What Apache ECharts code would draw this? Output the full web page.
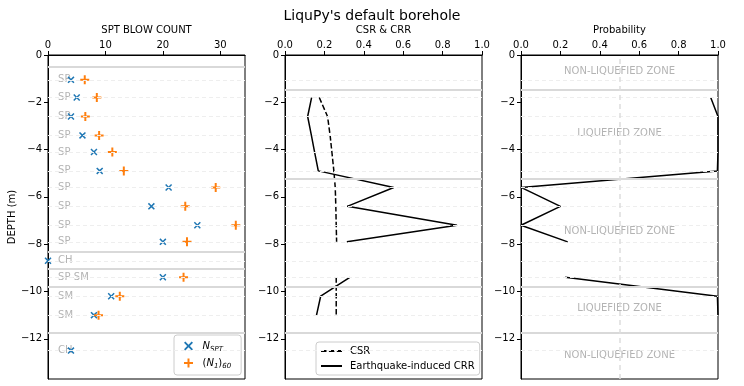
<!DOCTYPE html>
<html><head><meta charset="utf-8">
<script src="https://cdn.jsdelivr.net/npm/echarts@6/dist/echarts.min.js"></script>
<style>html,body{margin:0;padding:0;background:#fff}#c{width:744px;height:386px}</style>
</head><body><div id="c"></div>
<script>
// ---- data ----
const depths    = [-1.05, -1.8, -2.6, -3.4, -4.1, -4.9, -5.6, -6.4, -7.2, -7.9, -8.7, -9.4, -10.2, -11.0, -12.5];
const soilTypes = ['SP','SP','SP','SP','SP','SP','SP','SP','SP','SP','CH','SP-SM','SM','SM','CH'];
const nSPT      = [4, 5, 4, 6, 8, 9, 21, 18, 26, 20, 0, 20, 11, 8, 4];
const n160      = [6.4, 8.5, 6.5, 8.9, 11.2, 13.2, 29.2, 23.9, 32.7, 24.2, null, 23.6, 12.5, 8.8, null];
const csr       = [null, 0.174, 0.216, 0.229, 0.238, 0.248, 0.255, 0.258, 0.26, 0.262, null, 0.26, 0.26, 0.26, null];
const crr       = [null, 0.135, 0.115, 0.134, 0.15, 0.169, 0.552, 0.316, 0.873, 0.314, null, 0.329, 0.181, 0.16, null];
const prob      = [null, 0.963, 1.0, 1.0, 1.0, 0.997, 0.0, 0.2, 0.0, 0.237, null, 0.224, 0.997, 1.0, null];
const soilBoundaries = [-0.5, -8.3, -9.05, -9.8, -11.75];
const zoneBoundaries = [-1.45, -5.25, -9.8, -11.75];
const zoneLabels = ['NON-LIQUEFIED ZONE','LIQUEFIED ZONE','NON-LIQUEFIED ZONE','LIQUEFIED ZONE','NON-LIQUEFIED ZONE'];
const zoneDepths = [-0.7, -3.3, -7.46, -10.73, -12.7];
const yTicks = [0, -2, -4, -6, -8, -10, -12];
const sptTicks = [0, 10, 20, 30];
const ratioTicks = [0, 0.2, 0.4, 0.6, 0.8, 1.0];

// ---- chart ----
const FONT = 'DejaVu Sans';
const BLUE = '#1f77b4', ORANGE = '#ff7f0e';
const xPath = 'path://M0,1.5L1.5,0L5,3.5L8.5,0L10,1.5L6.5,5L10,8.5L8.5,10L5,6.5L1.5,10L0,8.5L3.5,5Z';
const plusPath = 'path://M3.9,0H6.1V3.9H10V6.1H6.1V10H3.9V6.1H0V3.9H3.9Z';
const minus = v => (v < 0 ? '\u2212' + Math.abs(v) : String(v));

function pts(vals) { return vals.map((v, i) => [v === null ? '-' : v, depths[i]]); }
function scatterPts(vals) { return vals.map((v, i) => [v, depths[i]]).filter(p => p[0] !== null); }

const grids = [
  {left: 48, top: 55, width: 197, height: 324},
  {left: 285, top: 55, width: 197, height: 324},
  {left: 521, top: 55, width: 197, height: 324}
].map(g => Object.assign(g, {show: true, borderColor: '#000', borderWidth: 1, backgroundColor: '#fff'}));

function makeX(i, name, max, ticks, fmt) {
  return {
    type: 'value', gridIndex: i, position: 'top', min: 0, max: max,
    name: name, nameLocation: 'middle', nameGap: 20,
    nameTextStyle: {fontFamily: FONT, fontSize: 10, color: '#000'},
    axisLine: {show: true, onZero: false, lineStyle: {color: '#000'}},
    axisTick: {show: true, length: 4, customValues: ticks, lineStyle: {color: '#000'}},
    axisLabel: {customValues: ticks, formatter: fmt, fontFamily: FONT, fontSize: 10, color: '#000', margin: 5},
    splitLine: {show: false}
  };
}
function makeY(i, name) {
  return {
    type: 'value', gridIndex: i, min: -13.7, max: 0,
    name: name || '', nameLocation: 'middle', nameGap: 30,
    nameTextStyle: {fontFamily: FONT, fontSize: 10, color: '#000'},
    axisLine: {show: true, onZero: false, lineStyle: {color: '#000'}},
    axisTick: {show: true, length: 4, customValues: yTicks, lineStyle: {color: '#000'}},
    axisLabel: {customValues: yTicks, formatter: minus, fontFamily: FONT, fontSize: 10, color: '#000', margin: 6},
    splitLine: {show: false}
  };
}

function guideLines(boundaries, extra) {
  const data = depths.map(d => ({yAxis: d, lineStyle: {color: '#eeeeee', width: 1, type: [4, 3]}}))
    .concat(boundaries.map(b => ({yAxis: b, lineStyle: {color: '#d9d9d9', width: 2, type: 'solid'}})));
  return {silent: true, symbol: 'none', label: {show: false}, animation: false, data: data.concat(extra || [])};
}

const series = [
  // panel 1
  {name: 'soil', type: 'scatter', xAxisIndex: 0, yAxisIndex: 0, symbolSize: 0, silent: true,
    data: soilTypes.map((s, i) => ({value: [1.75, depths[i]], name: s})),
    label: {show: true, position: [0, 0], align: 'left', verticalAlign: 'middle', formatter: p => p.name,
      fontFamily: FONT, fontSize: 10, color: '#a0a0a0'},
    markLine: guideLines(soilBoundaries), z: 1},
  {name: 'N_SPT', type: 'scatter', xAxisIndex: 0, yAxisIndex: 0, symbol: xPath, symbolSize: 7,
    itemStyle: {color: BLUE, opacity: 1}, data: scatterPts(nSPT), z: 3},
  {name: '(N1)60', type: 'scatter', xAxisIndex: 0, yAxisIndex: 0, symbol: plusPath, symbolSize: 9,
    itemStyle: {color: ORANGE, opacity: 1}, data: scatterPts(n160), z: 3},
  // panel 2
  {name: 'CSR', type: 'line', xAxisIndex: 1, yAxisIndex: 1, showSymbol: false, symbol: 'none',
    lineStyle: {color: '#000', width: 1.5, type: [5.5, 2.4]}, itemStyle: {color: '#000'},
    data: pts(csr), connectNulls: false, markLine: guideLines(zoneBoundaries), z: 3},
  {name: 'Earthquake-induced CRR', type: 'line', xAxisIndex: 1, yAxisIndex: 1, showSymbol: false, symbol: 'none',
    lineStyle: {color: '#000', width: 1.5}, itemStyle: {color: '#000'},
    data: pts(crr), connectNulls: false, z: 3},
  // panel 3
  {name: 'prob', type: 'line', xAxisIndex: 2, yAxisIndex: 2, showSymbol: false, symbol: 'none',
    lineStyle: {color: '#000', width: 1.5}, itemStyle: {color: '#000'},
    data: pts(prob), connectNulls: false, z: 3,
    markLine: guideLines(zoneBoundaries, [{xAxis: 0.5, lineStyle: {color: '#dddddd', width: 1.5, type: [5, 4]}}])},
  {name: 'zones', type: 'scatter', xAxisIndex: 2, yAxisIndex: 2, symbolSize: 0, silent: true,
    data: zoneLabels.map((s, i) => ({value: [0.5, zoneDepths[i]], name: s})),
    label: {show: true, position: [0, 0], align: 'center', verticalAlign: 'middle', formatter: p => p.name,
      fontFamily: FONT, fontSize: 10, color: '#a0a0a0'}, z: 2}
];

const option = {
  animation: false,
  backgroundColor: '#fff',
  textStyle: {fontFamily: FONT},
  title: {text: "LiquPy's default borehole", left: 'center', top: 4,
    textStyle: {fontFamily: FONT, fontSize: 14, fontWeight: 'normal', color: '#000'}},
  grid: grids,
  xAxis: [
    makeX(0, 'SPT BLOW COUNT', 34.3, sptTicks, v => String(v)),
    makeX(1, 'CSR & CRR', 1, ratioTicks, v => v.toFixed(1)),
    makeX(2, 'Probability', 1, ratioTicks, v => v.toFixed(1))
  ],
  yAxis: [makeY(0, 'DEPTH (m)'), makeY(1), makeY(2)],
  legend: [
    {data: ['N_SPT', '(N1)60'], orient: 'vertical', left: 174, top: 335, width: 66,
      itemWidth: 10, itemHeight: 9, itemGap: 5, padding: [6, 10, 5, 10],
      borderColor: '#cccccc', borderWidth: 1, borderRadius: 3, backgroundColor: '#fff',
      formatter: n => n === 'N_SPT' ? '{i|N}{s|SPT}' : '{n|(}{i|N}{s|1}{n|)}{s|60}',
      textStyle: {fontFamily: FONT, fontSize: 10, color: '#000', padding: [0, 0, 0, 4],
        rich: {i: {fontFamily: FONT, fontStyle: 'italic', fontSize: 10, lineHeight: 14, verticalAlign: 'middle'},
               n: {fontFamily: FONT, fontSize: 10, lineHeight: 14},
               s: {fontFamily: FONT, fontStyle: 'italic', fontSize: 7, lineHeight: 14, verticalAlign: 'bottom', padding: [5, 0, 0, 0]}}}},
    {data: ['CSR', 'Earthquake-induced CRR'], orient: 'vertical', left: 316, top: 342,
      itemWidth: 21, itemHeight: 10, itemGap: 5, padding: [4, 5, 4, 4],
      itemStyle: {opacity: 0},
      borderColor: '#cccccc', borderWidth: 1, borderRadius: 3, backgroundColor: '#fff',
      textStyle: {fontFamily: FONT, fontSize: 10, color: '#000', padding: [0, 0, 0, 3]}}
  ],
  series: series
};
const chart = echarts.init(document.getElementById('c'));
chart.setOption(option);
</script></body></html>
